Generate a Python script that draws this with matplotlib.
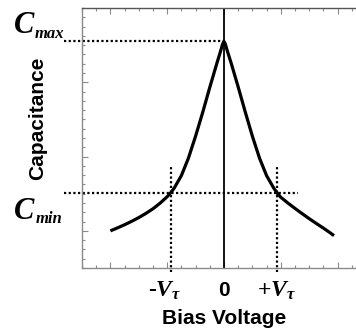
import numpy as np
import matplotlib.pyplot as plt
from matplotlib.ticker import MultipleLocator, FixedLocator, NullFormatter
from matplotlib.transforms import blended_transform_factory

plt.rcParams['mathtext.fontset'] = 'custom'
plt.rcParams['mathtext.it'] = 'Liberation Serif:italic:bold'
plt.rcParams['mathtext.rm'] = 'Liberation Serif:bold'
plt.rcParams['mathtext.bf'] = 'Liberation Serif:bold'

# === Data ===
bias = [-8, -7.5, -7, -6.5, -6, -5.5, -5, -4.5, -4, -3.75, -3.5, -3, -2.5, -2,
        -1.5, -1, -0.5, -0.25, -0.1, 0,
        0.1, 0.25, 0.5, 1, 1.5, 2, 2.5, 3, 3.5, 3.75, 4,
        4.5, 5, 5.5, 6, 6.5, 7, 7.5, 7.75]
cap = [4.0, 4.32, 4.66, 5.03, 5.43, 5.88, 6.38, 6.98, 7.68, 8.1, 8.62, 9.95, 11.85, 14.2,
       16.75, 19.45, 22.05, 23.3, 24.1, 24.4,
       24.1, 23.3, 22.1, 19.5, 16.8, 14.2, 11.85, 9.95, 8.62, 8.06, 7.62,
       7.0, 6.42, 5.86, 5.32, 4.8, 4.3, 3.77, 3.48]
c_max = 24.4
c_min = 8.06
v_tau = 3.73
tick_labels = ['$\u2010V_\\tau$', '0', r'$+V_\tau$']
label_shift = [-0.45, 0, 0]

# === Figure ===
fig = plt.figure(figsize=(3.56, 3.31), dpi=100)
ax = fig.add_axes([82 / 356, 1 - 268 / 331, 274 / 356, 260 / 331])
ax.set_xlim(-10, 9.3)
ax.set_ylim(0, 28)

ax.plot(bias, cap, color='black', lw=2.3, solid_joinstyle='round',
        solid_capstyle='butt', zorder=3)
ax.axvline(0, color='black', lw=1.3, zorder=2)

dot = dict(color='black', lw=1.6, linestyle=(0, (1, 1.1)), clip_on=False, zorder=2)
ax.plot([-11.3, 0], [c_max, c_max], **dot)
ax.plot([-11.3, 5.2], [c_min, c_min], **dot)
ax.plot([-v_tau, -v_tau], [-0.45, 11.1], **dot)
ax.plot([v_tau, v_tau], [-0.45, 11.1], **dot)

# === Axes styling ===
grey = '#8a8a8a'
for side in ['left', 'bottom', 'top']:
    ax.spines[side].set_color(grey)
    ax.spines[side].set_linewidth(1.0)
ax.spines['top'].set_color('#555555')
ax.spines['right'].set_visible(False)

ax.xaxis.set_major_locator(FixedLocator([-8, -4, 0, 4, 8]))
ax.xaxis.set_minor_locator(MultipleLocator(1))
ax.yaxis.set_major_locator(FixedLocator([4, 12, 20]))
ax.yaxis.set_minor_locator(MultipleLocator(1))
ax.xaxis.set_major_formatter(NullFormatter())
ax.yaxis.set_major_formatter(NullFormatter())
ax.tick_params(which='both', direction='in', color=grey, width=0.8,
               top=True, bottom=True, left=True, right=False)
ax.tick_params(which='major', length=4.5)
ax.tick_params(which='minor', length=2.3)

# === Labels ===
trans = blended_transform_factory(ax.transData, fig.transFigure)
for xv, lab, dx in zip([-v_tau, 0, v_tau], tick_labels, label_shift):
    if lab == '0':
        ax.text(xv, 1 - 291 / 331, lab, transform=trans, ha='center', va='center',
                fontsize=15, fontweight='bold', family='Liberation Sans')
    else:
        ax.text(xv + dx, 1 - 297 / 331, lab, transform=trans, ha='center',
                va='baseline', fontsize=17)

fig.text(224 / 356, 1 - 318 / 331, 'Bias Voltage', ha='center', va='center',
         fontsize=15, fontweight='bold', family='Liberation Sans')
fig.text(38 / 356, 1 - 118 / 331, 'Capacitance', ha='center', va='center',
         rotation=90, fontsize=15, fontweight='bold', family='Liberation Sans')

serif = dict(family='Liberation Serif', fontweight='bold', style='italic',
             ha='left', va='baseline')
fig.text(14 / 356, 1 - 33 / 331, 'C', fontsize=22, **serif)
fig.text(35 / 356, 1 - 38 / 331, 'max', fontsize=12, **serif)
fig.text(14 / 356, 1 - 219 / 331, 'C', fontsize=22, **serif)
fig.text(36 / 356, 1 - 223 / 331, 'min', fontsize=12, **serif)

fig.savefig('out.png', dpi=100)
